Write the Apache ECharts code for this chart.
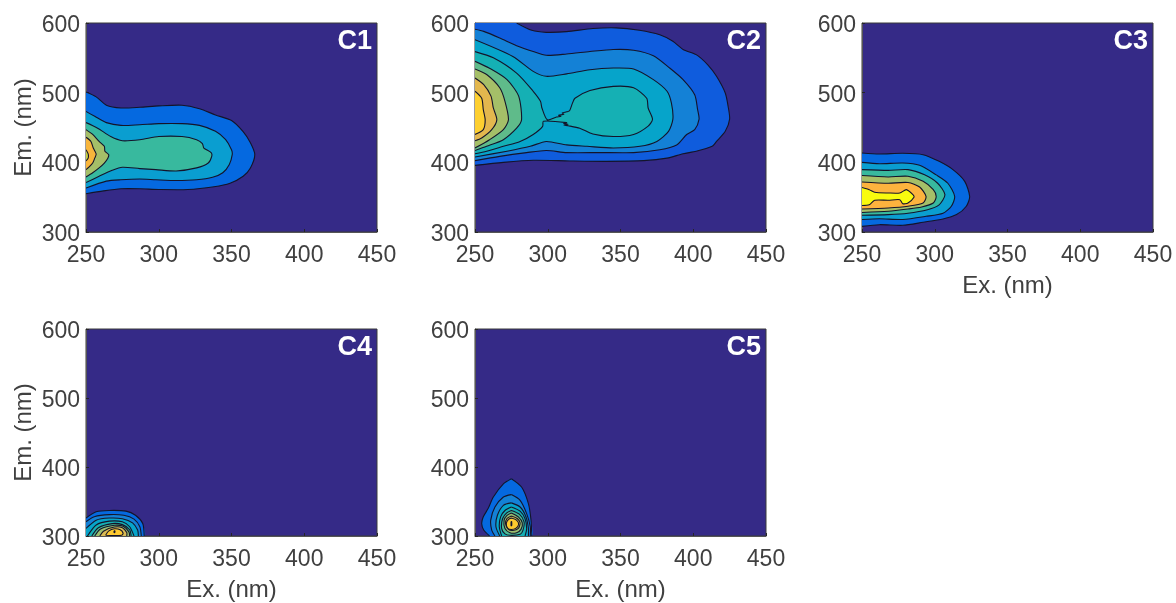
<!DOCTYPE html>
<html>
<head>
<meta charset="utf-8">
<title>EEM components</title>
<script src="https://cdn.jsdelivr.net/npm/echarts@6/dist/echarts.min.js"></script>
<style>
  html, body { margin: 0; padding: 0; background: #fff; }
  #main { width: 1176px; height: 603px; }
</style>
</head>
<body>
<div id="main"></div>
<script>
// contour outlines, [Ex nm, Em nm], outermost level first
const c1Levels = [
  [[250,501],[257,494],[264,482],[274,478],[287,479],[300,481],[316,482],[328,477],[339,468],[350,460],[358,444],[363,428],[366,411],[363,392],[358,380],[349,370],[338,365],[320,361],[300,361],[287,362],[274,362],[262,359],[250,355]],
  [[250,473],[256,466],[264,457],[274,453],[287,454],[300,455.5],[316,455.5],[328,453],[339,444.5],[346,432.5],[350,418],[350.5,411],[348.5,397],[344,385],[337,378.5],[326,375],[312,374],[298,375],[287,376],[274,375],[264,373],[250,363]],
  [[250,457],[258,449],[267,437],[275,431],[287,432.5],[300,437],[316,437],[326,432.5],[330,427],[331,420.5],[336,414],[336.4,408.6],[334,399],[326,392],[312,387.6],[298,389.5],[287,391],[275,393],[268,388.5],[259,380],[250,371]],
  [[250,447],[254.6,440],[259,430],[262.6,423],[263,416],[265.6,411],[265,406],[262.6,399],[259,392],[254.6,385],[250,379]],
  [[250,436],[253.4,430],[255,420.5],[257,412],[256,406],[254.6,399],[252,393],[250,389.5]],
  [[250,418],[251.5,412],[251.5,406],[250,402]]
];
const c2Levels = [
  [[250,600],[278.6,600],[289,589.5],[299,586.6],[313,587.6],[331,592],[347,593],[363,589.5],[377,583],[386,573.7],[393,562],[402,554.6],[410,540],[416,523.5],[422,499.5],[424,480],[425,462],[422,444.5],[416,430],[413,423],[402,415.8],[393,412.4],[382,406],[366,402.4],[340.5,401.4],[315,402],[290,403],[269.5,400],[250,395.7]],
  [[250,591],[256,588],[267,578.5],[278.6,567.5],[290,559],[299,553.6],[313,555.5],[329,559],[345,562],[359,561],[372.6,553],[384,535],[393,518.7],[401,497],[403,475.6],[404,462],[401,447],[395.5,440],[388.6,425],[377,418],[359,414],[336,414],[313,414],[299,417],[285.5,414],[267,408.6],[250,402.4]],
  [[250,576],[276,552],[290,530.6],[299,523.5],[313,527],[329,533],[345,535.4],[359,534],[372.6,518.7],[382,502],[385,485],[386,462],[383,444.5],[375,430],[363.4,423],[345,420.6],[327,423],[313,425],[299,430],[288,423],[272,416],[250,407.7]],
  [[250,559],[262.6,550],[278.6,528],[290,502],[295,487.6],[296,478],[299.7,461],[306,465],[309,466],[307.5,467.5],[311,469],[310,471],[313,472.5],[315,474],[317,485],[318.7,492],[329,503],[345,509],[359,507],[368,492],[369,478],[372,462],[369,452],[359,440],[345,437],[331,440.7],[322,449],[314,452.6],[311,453.5],[314,454.5],[311,455.5],[313,457],[297,459],[296.5,451.7],[290,440],[281,430],[269.5,423],[258,416],[250,412.4]],
  [[250,545],[260,535],[272,518.7],[280,495],[282,461],[278.6,449],[269.5,432.5],[258,423],[250,417]],
  [[250,534],[258,526],[267,507],[270.6,487.6],[273,461],[269.5,447],[260,432.5],[250,420.6]],
  [[250,521],[256,511.5],[261,495],[262.6,478],[265,461],[261.5,447],[254.6,435],[250,431]],
  [[250,502],[254.6,492],[255.7,475.6],[257,461],[255.7,447],[250,440]]
];
const c3Levels = [
  [[250,413.4],[262,412],[278,413],[292,411],[303,401.4],[312.5,389.5],[320.6,372.7],[324,351],[321.7,337],[315,325],[305.7,318.7],[292,314],[278,309.6],[262,310.5],[250,308]],
  [[250,400],[262,398],[278,399],[289.6,395.7],[301,382],[309,370],[313.7,351],[311.4,337],[305.7,327],[294,322.5],[278,318],[262,319],[250,318]],
  [[250,389.5],[268,388.5],[281.6,389.5],[293,382],[302,370],[307,353.6],[303,339],[295,332],[281.6,327],[268,325],[250,324]],
  [[250,381],[268,379],[281.6,380],[292,372.7],[299,360.8],[301,351],[299,341.6],[291,336],[281.6,333],[268,329.7],[250,328]],
  [[250,371.8],[268,370],[281.6,371],[289.6,364.6],[294,351],[292,341.6],[281.6,337],[268,334.5],[250,333]],
  [[250,364],[255,360.8],[258.7,357],[268,356],[276,356],[280.5,360.8],[285,353.6],[285.7,350],[281.6,341.6],[278,340.7],[276,346.4],[268,345.5],[258.7,345.5],[255,339],[250,338]]
];
const c4Levels = [
  [[250,326],[257,335],[266,337],[277.5,336],[284,330],[289,318],[290,300],[250,300]],
  [[250,320.6],[255.7,328],[266,331],[276,330],[283,324.4],[287,313.4],[288,300],[250,300]],
  [[250,311],[257,323],[266,326],[275,325],[282,319],[285.5,308.6],[286,300],[250,300]],
  [[251,300],[257,316],[266,321.5],[275,320.6],[280,313.4],[283,300]],
  [[254,300],[258.5,312],[268,318],[275,316.5],[280,309],[281,300]],
  [[256,300],[260,310],[269.5,315.5],[275.5,314],[279.5,306],[280,300]],
  [[259.5,300],[262,307],[269.5,313],[275,312],[278,305],[278,300]],
  [[263.5,301],[265.5,307],[269.5,310.5],[273.5,309],[275.5,304],[274.5,301]],
  [[269.3,307.5],[269.8,307.5],[269.8,305],[269.3,305]]
];
const c5Levels = [
  [[275,383],[282,371],[286.7,347],[288.5,323],[289,300],[260,300],[256,308.6],[254.6,318],[255.7,327.8],[259,339.7],[262.6,356.5],[269.5,375.6]],
  [[275,360],[281,351.7],[285.5,332.5],[288,313.4],[288,300],[263.7,300],[261.5,308.6],[260.8,323],[263.7,342],[269.5,356.5]],
  [[275,348],[281,342],[285,328],[286.7,311],[286.7,300],[267,300],[264.4,313.4],[265.4,330],[269.5,344.5]],
  [[275,342],[281,336],[284.4,325],[285.5,311],[284.4,300],[268.3,300],[266.7,313.4],[267.6,327.8],[270.6,337]],
  [[275,337],[280.5,331.6],[283.7,320.6],[283,308.6],[281,302.4],[274,301],[270.6,303],[268.3,311],[269,325.4],[271.8,333.5]],
  [[275,333.5],[279.8,327.8],[282.5,319],[281.6,309.6],[278.6,304.8],[274,304.8],[270.6,311],[270,323],[272,330]],
  [[275,329],[279,325.4],[281,319],[279.8,311],[276,308],[273,309.6],[271,318],[272,325.4]],
  [[275,326],[278.5,323],[280,317],[278,311],[275,309.5],[272.5,311],[271.5,318],[273,324]],
  [[274.8,321],[275.2,321],[275.2,315],[274.8,315]]
];

const panelNames = ['C1', 'C2', 'C3', 'C4', 'C5'];
const panelLevels = [c1Levels, c2Levels, c3Levels, c4Levels, c5Levels];
const panelColors = [
  ['#0569e0', '#0a9ed0', '#38b99e', '#a5bf68', '#f8b53b', '#c8d040'],
  ['#0f5cdd', '#1481d6', '#06a4ca', '#15b0b4', '#5fbb8a', '#a5bf68', '#e3b74e', '#fdcf30'],
  ['#0569e0', '#0a9ed0', '#38b99e', '#a5bf68', '#fdb33e', '#f9fb0e'],
  ['#0569e0', '#1481d6', '#06a4ca', '#15b0b4', '#4abb95', '#9cbe6e', '#d9bb55', '#fdc92f', '#f9fb0e'],
  ['#0569e0', '#1481d6', '#06a4ca', '#15b0b4', '#4abb95', '#9cbe6e', '#d9bb55', '#fdc92f', '#f9fb0e']
];
const xTicks = [250, 300, 350, 400, 450];
const yTicks = [300, 400, 500, 600];
const xTitle = 'Ex. (nm)';
const yTitle = 'Em. (nm)';
const showXTitle = [false, false, true, true, true];
const showYTitle = [true, false, false, true, false];

const xMin = xTicks[0], xMax = xTicks[xTicks.length - 1];
const yMin = yTicks[0], yMax = yTicks[yTicks.length - 1];
const panelLeft = [86, 475, 862, 86, 475];
const panelTop = [23, 23, 23, 329, 329];
const panelW = 291, panelH = 209;
const curve = 0.25;

// an edge that runs along the frame gets no black contour line
function onFrame(a, b) {
  if (a[0] === b[0] && (a[0] === xMin || a[0] === xMax)) return true;
  if (a[1] === b[1] && (a[1] === yMin || a[1] === yMax)) return true;
  return false;
}

function contourRender(p) {
  return function (params, api) {
    const pts = panelLevels[p][api.value(0)];
    const mapped = pts.map(d => api.coord(d));
    // open outline closed by the frame: fill it as a polyline so fill and line share one curve
    const openFill = onFrame(pts[pts.length - 1], pts[0]);
    const children = [{
      type: openFill ? 'polyline' : 'polygon',
      shape: { points: mapped, smooth: curve },
      style: { fill: panelColors[p][api.value(0)], stroke: null }
    }];
    let run = [];
    for (let i = 0; i <= pts.length; i++) {
      const cur = i % pts.length;
      if (run.length && onFrame(pts[i - 1], pts[cur])) {
        if (run.length > 1) children.push(lineEl(run));
        run = [];
      }
      run.push(mapped[cur]);
    }
    if (run.length > 1) children.push(lineEl(run));
    return { type: 'group', children: children };
  };
}

function lineEl(points) {
  return {
    type: 'polyline',
    shape: { points: points, smooth: curve },
    style: { fill: null, stroke: '#14142a', lineWidth: 1.1 }
  };
}

const grid = [], xAxis = [], yAxis = [], series = [], graphic = [];
const tickStyle = { show: true, inside: true, length: 3, lineStyle: { color: '#262626', width: 1 } };

panelNames.forEach(function (name, p) {
  grid.push({
    left: panelLeft[p], top: panelTop[p], width: panelW, height: panelH,
    show: true, backgroundColor: '#352a87', borderColor: '#3a3a3a', borderWidth: 1
  });
  xAxis.push({
    gridIndex: p, type: 'value', min: xMin, max: xMax, interval: 50,
    name: showXTitle[p] ? xTitle : '', nameLocation: 'middle', nameGap: 42,
    nameTextStyle: { fontFamily: 'Liberation Sans', fontSize: 24, color: '#404040' },
    axisLine: { show: true, lineStyle: { color: '#555' } },
    axisTick: tickStyle, splitLine: { show: false },
    axisLabel: { margin: 12, fontFamily: 'Liberation Sans', fontSize: 23, color: '#404040', hideOverlap: false, showMinLabel: true, showMaxLabel: true }
  });
  yAxis.push({
    gridIndex: p, type: 'value', min: yMin, max: yMax, interval: 100,
    name: showYTitle[p] ? yTitle : '', nameLocation: 'middle', nameGap: 50,
    nameTextStyle: { fontFamily: 'Liberation Sans', fontSize: 24, color: '#404040' },
    axisLine: { show: true, lineStyle: { color: '#555' } },
    axisTick: tickStyle, splitLine: { show: false },
    axisLabel: { margin: 6, verticalAlign: 'top', padding: [-9, 0, 0, 0], fontFamily: 'Liberation Sans', fontSize: 23, color: '#404040', hideOverlap: false, showMinLabel: true, showMaxLabel: true }
  });
  series.push({
    type: 'custom', xAxisIndex: p, yAxisIndex: p, clip: true, silent: true,
    renderItem: contourRender(p),
    encode: { x: -1, y: -1 },
    data: panelLevels[p].map((_, i) => [i])
  });
  graphic.push({
    type: 'text', z: 100,
    x: panelLeft[p] + panelW - 5, y: panelTop[p] + 19,
    style: { text: name, fill: '#fff', font: 'bold 27px "Liberation Sans"', textAlign: 'right', textVerticalAlign: 'middle' }
  });
});

const chart = echarts.init(document.getElementById('main'), null, { renderer: 'canvas' });
chart.setOption({
  animation: false,
  backgroundColor: '#fff',
  grid: grid,
  xAxis: xAxis,
  yAxis: yAxis,
  series: series,
  graphic: graphic
});
</script>
</body>
</html>
